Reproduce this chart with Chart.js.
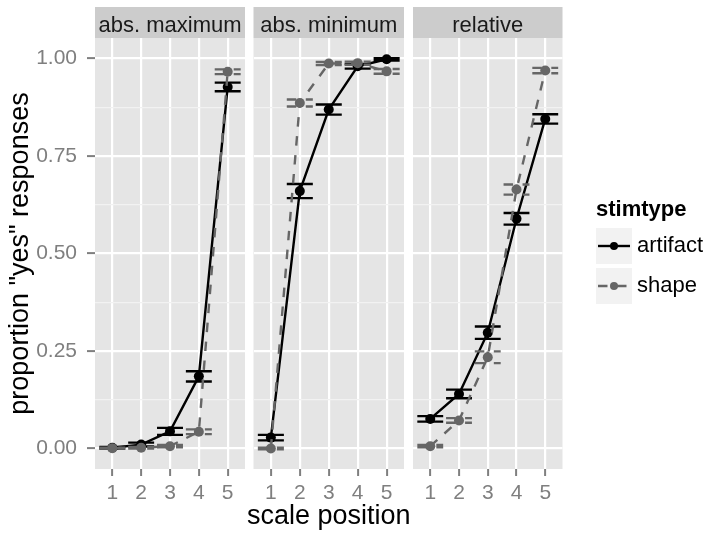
<!DOCTYPE html>
<html>
<head>
<meta charset="utf-8">
<script src="https://cdn.jsdelivr.net/npm/chart.js@4.4.1/dist/chart.umd.min.js"></script>
<style>
  body { margin: 0; background: #fff; }
  #wrap { position: relative; width: 706px; height: 533px; }
  canvas { position: absolute; top: 0; }
</style>
</head>
<body>
<div id="wrap">
  <canvas id="c1" width="250" height="533" style="left:0px"></canvas>
  <canvas id="c2" width="200" height="533" style="left:230px"></canvas>
  <canvas id="c3" width="298" height="533" style="left:408px"></canvas>
</div>
<script>
// scale positions and facet names
const positions = [1, 2, 3, 4, 5];
const panelNames = ['abs. maximum', 'abs. minimum', 'relative'];
const yTicks = [0, 0.25, 0.5, 0.75, 1];
const yTickLabels = ['0.00', '0.25', '0.50', '0.75', '1.00'];
const seriesNames = ['artifact', 'shape'];

// proportion of "yes" responses (mean and half error bar)
const maxArtifact = [0.002, 0.01, 0.044, 0.185, 0.927];
const maxArtifactErr = [0.002, 0.005, 0.009, 0.013, 0.011];
const maxShape = [0.001, 0.002, 0.006, 0.043, 0.966];
const maxShapeErr = [0.001, 0.002, 0.003, 0.006, 0.006];

const minArtifact = [0.028, 0.66, 0.869, 0.98, 0.998];
const minArtifactErr = [0.007, 0.018, 0.013, 0.006, 0.003];
const minShape = [0.0, 0.886, 0.987, 0.988, 0.967];
const minShapeErr = [0.002, 0.009, 0.004, 0.004, 0.006];

const relArtifact = [0.076, 0.14, 0.297, 0.589, 0.845];
const relArtifactErr = [0.007, 0.011, 0.016, 0.015, 0.012];
const relShape = [0.006, 0.072, 0.234, 0.664, 0.969];
const relShapeErr = [0.003, 0.006, 0.015, 0.013, 0.007];

const FONT = '"Liberation Sans", Arial, Helvetica, sans-serif';
Chart.defaults.font.family = FONT;

const isMajor = (v) => yTicks.some((t) => Math.abs(t - v) < 1e-9);

// grey panel + facet strip
const panelDecor = {
  id: 'panelDecor',
  beforeDraw(chart, args, opts) {
    const { ctx, chartArea: a } = chart;
    ctx.save();
    ctx.fillStyle = '#E5E5E5';
    ctx.fillRect(a.left, a.top, a.right - a.left, a.bottom - a.top);
    ctx.fillStyle = '#CCCCCC';
    ctx.fillRect(a.left, 7, a.right - a.left, a.top - 7);
    ctx.fillStyle = '#1A1A1A';
    ctx.font = '22px ' + FONT;
    ctx.textAlign = 'center';
    ctx.textBaseline = 'alphabetic';
    ctx.fillText(opts.label, (a.left + a.right) / 2, 32);
    ctx.restore();
  },
};

// axis titles, placed like ggplot does it (not squeezed to one panel's width)
const axisTitles = {
  id: 'axisTitles',
  afterDraw(chart, args, opts) {
    const ctx = chart.ctx;
    const a = chart.chartArea;
    ctx.save();
    ctx.fillStyle = '#000';
    ctx.font = '27px ' + FONT;
    ctx.textAlign = 'center';
    ctx.textBaseline = 'middle';
    if (opts.x) {
      ctx.fillText(opts.x, (a.left + a.right) / 2, 517);
    }
    if (opts.y) {
      ctx.translate(21, (a.top + a.bottom) / 2);
      ctx.rotate(-Math.PI / 2);
      ctx.fillText(opts.y, 0, 0);
    }
    ctx.restore();
  },
};

// error bars, drawn under each dataset's line and points
const errorBars = {
  id: 'errorBars',
  beforeDatasetDraw(chart, args) {
    const ds = chart.data.datasets[args.index];
    const xs = chart.scales.x;
    const ys = chart.scales.y;
    const ctx = chart.ctx;
    ctx.save();
    ctx.strokeStyle = ds.borderColor;
    ctx.lineWidth = ds.borderWidth;
    ctx.setLineDash(ds.borderDash || []);
    ds.data.forEach((p, i) => {
      const e = ds.errors[i];
      const px = xs.getPixelForValue(p.x);
      const xl = xs.getPixelForValue(p.x - 0.45);
      const xr = xs.getPixelForValue(p.x + 0.45);
      const lo = ys.getPixelForValue(p.y - e);
      const hi = ys.getPixelForValue(p.y + e);
      ctx.beginPath();
      ctx.moveTo(xl, hi);
      ctx.lineTo(xr, hi);
      ctx.moveTo(px, hi);
      ctx.lineTo(px, lo);
      ctx.moveTo(xl, lo);
      ctx.lineTo(xr, lo);
      ctx.stroke();
    });
    ctx.restore();
  },
};

// ggplot style legend to the right of the last panel
const legendBox = {
  id: 'legendBox',
  afterDraw(chart, args, opts) {
    if (!opts.show) return;
    const ctx = chart.ctx;
    const x0 = chart.chartArea.right + 33.5;
    ctx.save();
    ctx.fillStyle = '#000';
    ctx.font = 'bold 22px ' + FONT;
    ctx.textAlign = 'left';
    ctx.textBaseline = 'alphabetic';
    ctx.fillText('stimtype', x0, 216);
    seriesNames.forEach((name, i) => {
      const ds = chart.data.datasets.find((d) => d.label === name);
      const yc = 246 + i * 40;
      ctx.fillStyle = '#F2F2F2';
      ctx.fillRect(x0, yc - 18, 36, 36);
      ctx.strokeStyle = ds.borderColor;
      ctx.lineWidth = ds.borderWidth;
      ctx.setLineDash(ds.borderDash || []);
      ctx.beginPath();
      ctx.moveTo(x0 + 2, yc);
      ctx.lineTo(x0 + 34, yc);
      ctx.stroke();
      ctx.setLineDash([]);
      ctx.fillStyle = ds.borderColor;
      ctx.beginPath();
      ctx.arc(x0 + 18, yc, 4, 0, Math.PI * 2);
      ctx.fill();
      ctx.fillStyle = '#000';
      ctx.font = '22px ' + FONT;
      ctx.textBaseline = 'middle';
      ctx.fillText(name, x0 + 41, yc);
    });
    ctx.restore();
  },
};

const makeSeries = (label, values, errors, color, dash, order) => ({
  label: label,
  data: positions.map((p, i) => ({ x: p, y: values[i] })),
  errors: errors,
  borderColor: color,
  backgroundColor: color,
  borderWidth: 2.4,
  borderDash: dash,
  pointRadius: 5,
  pointBorderWidth: 0,
  pointBackgroundColor: color,
  tension: 0,
  order: order,
});

const makeChart = (id, panel, artifact, artifactErr, shape, shapeErr, padLeft, padRight) => {
  const first = panel === 0;
  const middle = panel === 1;
  const last = panel === 2;
  return new Chart(document.getElementById(id), {
    type: 'line',
    data: {
      datasets: [
        makeSeries('artifact', artifact, artifactErr, '#000000', [], 1),
        makeSeries('shape', shape, shapeErr, '#666666', [9.5, 9.5], 0),
      ],
    },
    options: {
      responsive: false,
      animation: false,
      events: [],
      layout: { padding: { top: 38, left: padLeft, right: padRight, bottom: 0 } },
      plugins: {
        legend: { display: false },
        tooltip: { enabled: false },
        panelDecor: { label: panelNames[panel] },
        legendBox: { show: last },
        axisTitles: {
          x: middle ? 'scale position' : '',
          y: first ? 'proportion "yes" responses' : '',
        },
      },
      scales: {
        x: {
          type: 'linear',
          min: 0.4,
          max: 5.6,
          afterBuildTicks: (scale) => {
            scale.ticks = positions.map((v) => ({ value: v }));
          },
          afterFit: (scale) => {
            scale.height = 64;
          },
          border: { display: false },
          grid: {
            color: '#FFFFFF',
            lineWidth: 2.2,
            tickColor: '#7F7F7F',
            tickWidth: 2,
            tickLength: 7,
          },
          ticks: {
            color: '#7F7F7F',
            font: { size: 21 },
            padding: 5,
            maxRotation: 0,
            callback: (v) => String(v),
          },
        },
        y: {
          type: 'linear',
          min: -0.0525,
          max: 1.0525,
          afterBuildTicks: (scale) => {
            const vals = [];
            yTicks.forEach((t, i) => {
              vals.push(t);
              if (i < yTicks.length - 1) vals.push((t + yTicks[i + 1]) / 2);
            });
            scale.ticks = vals.map((v) => ({ value: v }));
          },
          afterFit: (scale) => {
            scale.width = first ? 95 : 0;
          },
          border: { display: false },
          grid: {
            color: (c) => (isMajor(c.tick.value) ? '#FFFFFF' : '#F2F2F2'),
            lineWidth: (c) => (isMajor(c.tick.value) ? 2.2 : 1.2),
            drawTicks: first,
            tickColor: (c) => (isMajor(c.tick.value) ? '#7F7F7F' : 'rgba(0,0,0,0)'),
            tickWidth: 2,
            tickLength: 8,
          },
          ticks: {
            display: first,
            color: '#7F7F7F',
            font: { size: 21 },
            padding: 10,
            callback: (v) => {
              const i = yTicks.findIndex((t) => Math.abs(t - v) < 1e-9);
              return i >= 0 ? yTickLabels[i] : '';
            },
          },
        },
      },
    },
    plugins: [panelDecor, errorBars, legendBox, axisTitles],
  });
};

makeChart('c1', 0, maxArtifact, maxArtifactErr, maxShape, maxShapeErr, 0, 4.3);
makeChart('c2', 1, minArtifact, minArtifactErr, minShape, minShapeErr, 23.5, 26);
makeChart('c3', 2, relArtifact, relArtifactErr, relShape, relShapeErr, 4, 143.5);
</script>
</body>
</html>
